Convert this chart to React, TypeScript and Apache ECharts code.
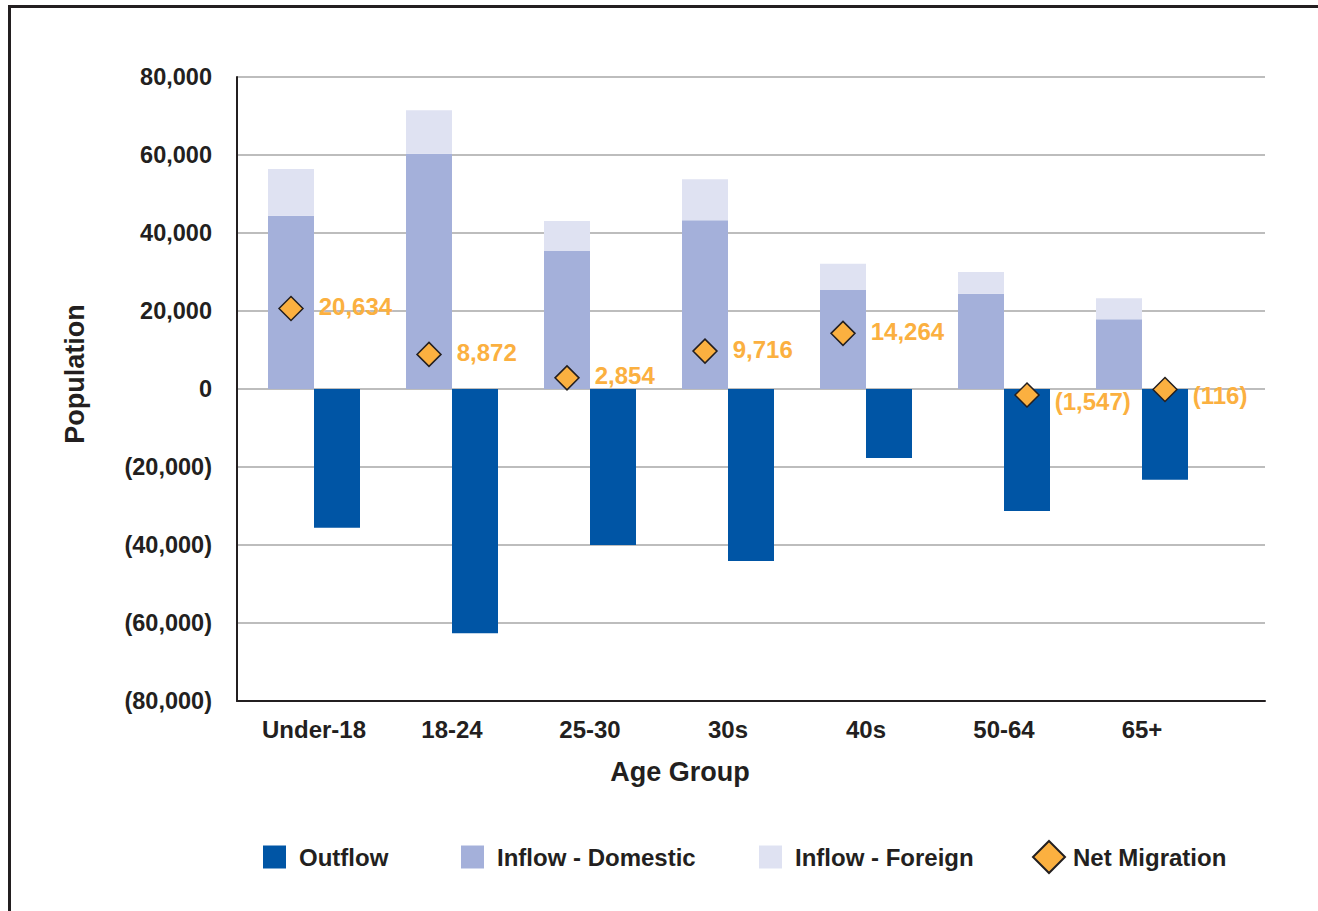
import React, { useEffect, useRef } from "react";
import * as echarts from "echarts";

const categories = ["Under-18", "18-24", "25-30", "30s", "40s", "50-64", "65+"];
const inflowDomestic = [44400, 60300, 35400, 43300, 25400, 24400, 17900];
const inflowForeign = [12000, 11200, 7700, 10500, 6700, 5600, 5400];
const outflow = [-35600, -62600, -40000, -44100, -17700, -31300, -23300];
const netMigration = [20634, 8872, 2854, 9716, 14264, -1547, -116];
const yTicks = { min: -80000, max: 80000, interval: 20000 };

const FONT = "'Liberation Sans', Arial, sans-serif";
const C_OUT = "#0055A5";
const C_DOM = "#A4B0DA";
const C_FOR = "#DFE2F2";
const C_NET = "#FBB040";
const DARK = "#231F20";

function fmt(v: number): string {
  const s = Math.abs(v).toLocaleString("en-US");
  return v < 0 ? `(${s})` : s;
}

export default function App() {
  const ref = useRef<HTMLDivElement>(null);
  useEffect(() => {
    if (!ref.current) return;
    const chart = echarts.init(ref.current, null, { renderer: "svg" });
    const legendText = { fontFamily: FONT, fontWeight: "bold" as const, fontSize: 24, color: DARK };
    const mkLegend = (name: string, left: number, top: number, size: number, pad: number) => ({
      data: [name],
      left,
      top,
      padding: 0,
      itemWidth: size,
      itemHeight: size,
      selectedMode: false,
      textStyle: { ...legendText, padding: [0, 0, 0, pad] },
    });
    chart.setOption({
      animation: false,
      backgroundColor: "#fff",
      graphic: [
        {
          type: "rect",
          shape: { x: 9.5, y: 6.5, width: 1500, height: 1200 },
          style: { fill: "none", stroke: DARK, lineWidth: 3 },
          silent: true,
        },
      ],
      legend: [
        { ...mkLegend("Outflow", 263, 845, 23, 8), icon: "rect" },
        { ...mkLegend("Inflow - Domestic", 461, 845, 23, 8), icon: "rect" },
        { ...mkLegend("Inflow - Foreign", 759, 845, 23, 8), icon: "rect" },
        mkLegend("Net Migration", 1032, 840, 32, 3),
      ],
      grid: [
        { left: 237, right: 53, top: 77, bottom: 210, containLabel: false },
        { left: 245, right: 107, top: 77, bottom: 210, containLabel: false },
      ],
      xAxis: [
        {
          gridIndex: 0,
          type: "value",
          min: 0,
          max: 1,
          axisLine: { show: true, onZero: false, lineStyle: { color: DARK, width: 2 } },
          axisTick: { show: false },
          axisLabel: { show: false },
          splitLine: { show: false },
        },
        {
          gridIndex: 1,
          type: "category",
          data: categories,
          name: "Age Group",
          nameLocation: "middle",
          nameGap: 57,
          nameTextStyle: {
            fontFamily: FONT,
            fontWeight: "bold",
            fontSize: 27,
            color: DARK,
            padding: [0, 96, 0, 0],
          },
          axisLine: { show: false },
          axisTick: { show: false },
          axisLabel: {
            fontFamily: FONT,
            fontWeight: "bold",
            fontSize: 24,
            color: DARK,
            margin: 16,
          },
        },
      ],
      yAxis: [
        {
          gridIndex: 0,
          type: "value",
          ...yTicks,
          name: "Population",
          nameLocation: "middle",
          nameGap: 149,
          nameRotate: 90,
          nameTextStyle: {
            fontFamily: FONT,
            fontWeight: "bold",
            fontSize: 27,
            color: DARK,
            padding: [0, 0, 0, 30],
          },
          axisLine: { show: true, lineStyle: { color: DARK, width: 2 } },
          axisTick: { show: false },
          splitLine: { lineStyle: { color: "#BDBDBD", width: 2 } },
          axisLabel: {
            fontFamily: FONT,
            fontWeight: "bold",
            fontSize: 23.5,
            color: DARK,
            margin: 25,
            padding: [6, 0, 0, 0],
            formatter: (v: number) => fmt(v),
          },
        },
        {
          gridIndex: 1,
          type: "value",
          ...yTicks,
          show: false,
          splitLine: { show: false },
        },
      ],
      series: [
        {
          name: "Inflow - Domestic",
          type: "bar",
          xAxisIndex: 1,
          yAxisIndex: 1,
          stack: "in",
          data: inflowDomestic,
          barWidth: 46,
          barGap: "0%",
          itemStyle: { color: C_DOM },
        },
        {
          name: "Inflow - Foreign",
          type: "bar",
          xAxisIndex: 1,
          yAxisIndex: 1,
          stack: "in",
          data: inflowForeign,
          barWidth: 46,
          barGap: "0%",
          itemStyle: { color: C_FOR },
        },
        {
          name: "Outflow",
          type: "bar",
          xAxisIndex: 1,
          yAxisIndex: 1,
          stack: "out",
          data: outflow,
          barWidth: 46,
          barGap: "0%",
          itemStyle: { color: C_OUT },
        },
        {
          name: "Net Migration",
          type: "scatter",
          xAxisIndex: 1,
          yAxisIndex: 1,
          data: netMigration.map((v) => ({
            value: v,
            symbolOffset: [v >= 0 ? -23 : 23, 0],
            label: { offset: [0, v >= 0 ? -2 : 6] },
          })),
          symbol: "diamond",
          symbolSize: 24,
          itemStyle: { color: C_NET, borderColor: DARK, borderWidth: 1.5, opacity: 1 },
          label: {
            show: true,
            position: "right",
            distance: 15,
            fontFamily: FONT,
            fontWeight: "bold",
            fontSize: 24,
            color: C_NET,
            opacity: 1,
            formatter: (p: any) => fmt(p.value),
          },
          z: 5,
        },
      ],
    });
    return () => chart.dispose();
  }, []);
  return (
    <div
      ref={ref}
      style={{ position: "absolute", left: 0, top: 0, width: 1318, height: 911 }}
    />
  );
}
